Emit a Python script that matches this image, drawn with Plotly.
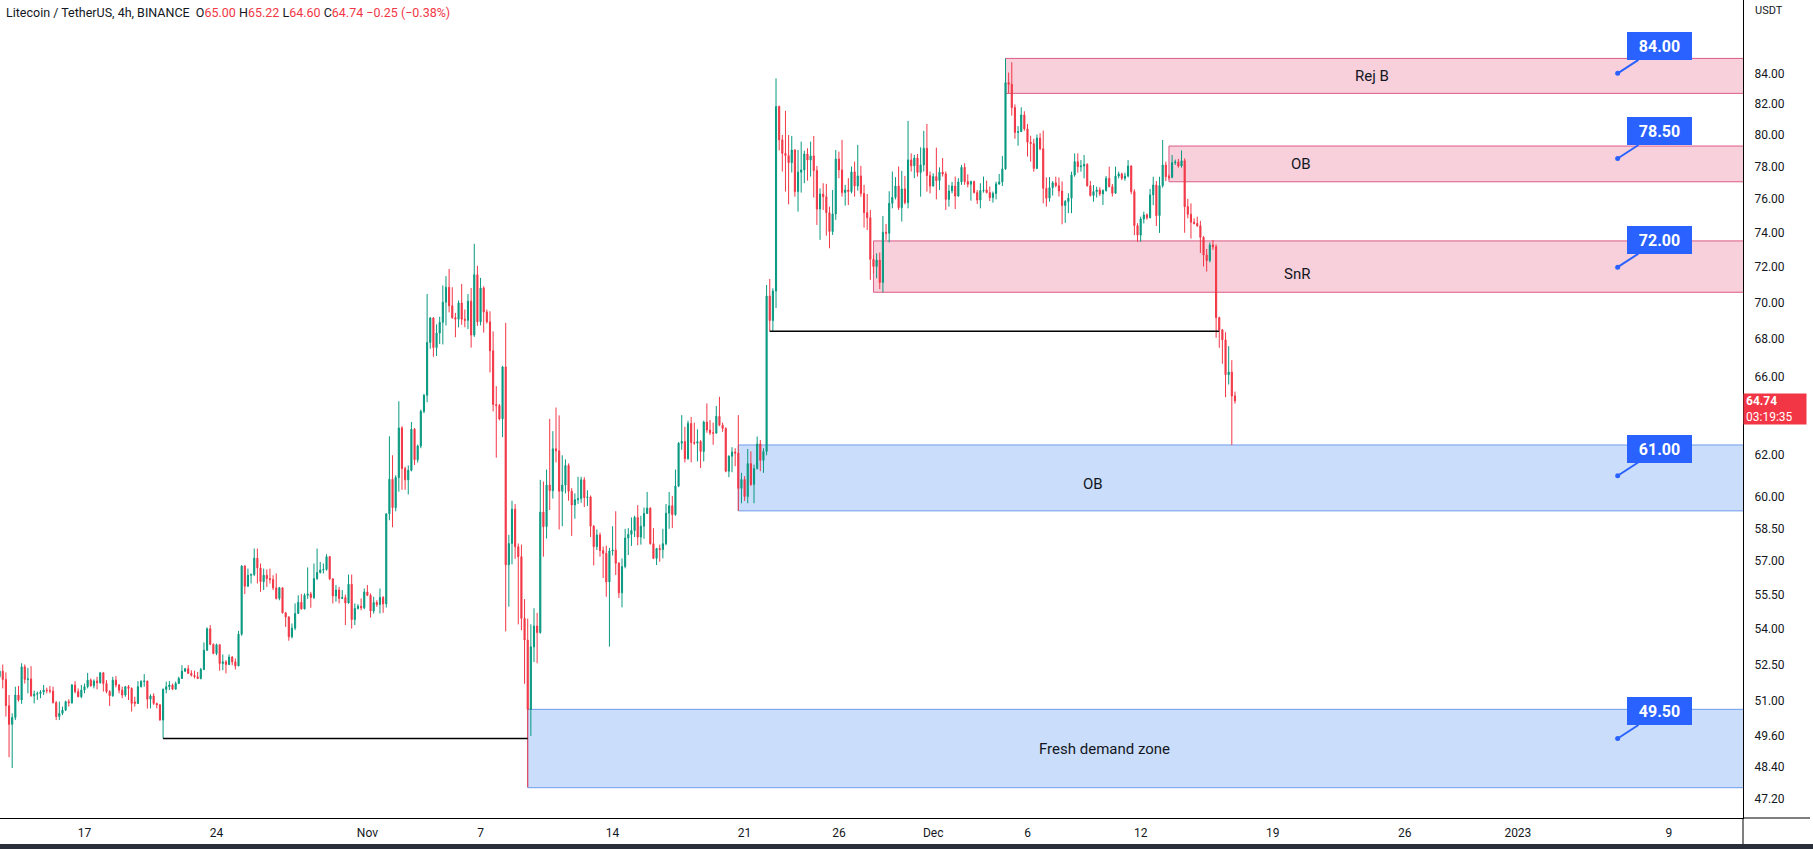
import numpy as np
import pandas as pd
import plotly.graph_objects as go

# ---------------- DATA ----------------
bar_start = "2022-10-12 12:00"
bar_freq = "4h"

open_ = [51.99,52.22,51.88,50.81,50.06,50.33,51.24,51.04,52.40,51.88,51.90,51.21,51.27,51.30,51.36,51.44,51.42,51.40,50.93,50.37,
50.50,50.63,50.97,50.93,51.65,51.38,51.17,51.44,51.58,51.85,51.62,51.81,51.74,52.15,51.71,51.38,51.21,51.85,51.65,51.44,
51.24,51.58,51.51,50.96,50.90,51.58,51.79,51.81,51.07,51.20,50.90,50.84,50.23,51.47,51.58,51.65,51.48,51.71,51.92,52.22,
52.32,52.13,52.05,51.99,51.92,52.29,53.10,54.01,53.35,52.96,53.33,52.54,52.61,52.50,52.81,52.61,52.44,53.78,56.77,55.87,
56.36,56.39,57.13,56.69,56.07,56.36,56.21,56.17,55.80,55.33,55.80,54.70,54.52,53.67,54.04,54.67,55.16,54.87,55.47,55.52,
55.37,56.21,56.48,56.59,56.62,57.20,56.20,55.44,55.70,55.33,55.37,55.13,55.96,54.41,54.89,54.99,54.92,55.61,55.47,54.78,
55.15,55.06,55.37,55.09,59.18,60.83,59.47,60.91,63.36,61.35,60.80,61.26,63.30,61.78,62.46,64.20,65.03,67.82,69.15,67.54,
68.33,68.91,70.02,70.86,69.82,69.17,69.08,69.98,69.08,69.02,70.08,68.22,71.57,68.94,70.82,69.48,68.94,67.37,64.55,64.50,
63.82,66.51,56.83,57.80,59.40,57.65,57.20,54.46,53.53,50.66,53.24,54.13,53.85,59.26,58.58,60.55,60.28,62.32,62.22,60.25,
60.55,61.50,60.25,59.60,59.85,59.90,60.80,59.95,59.98,58.60,57.66,58.19,57.48,57.35,56.06,57.46,57.50,56.90,55.58,56.75,
58.05,58.22,58.40,59.01,58.10,58.60,59.20,59.45,57.79,57.12,57.57,57.52,57.79,59.21,59.56,59.14,60.50,62.60,62.68,61.83,
63.59,62.63,62.60,62.68,62.19,63.66,63.26,63.12,63.10,63.95,63.50,63.34,61.22,61.95,62.16,62.11,60.39,60.82,60.00,61.59,
60.58,61.35,62.56,61.75,62.19,70.37,69.01,70.65,81.81,79.67,78.82,78.68,78.24,79.03,76.46,77.65,77.79,78.78,78.40,78.66,
77.75,75.41,76.31,76.15,75.19,74.07,75.11,78.47,77.79,76.40,76.56,76.46,77.67,76.80,77.42,76.35,75.19,74.89,72.45,72.04,
72.41,71.13,74.03,73.97,75.75,76.11,76.80,75.49,76.62,75.79,78.41,78.04,78.53,77.63,78.10,79.14,77.44,76.80,77.38,77.13,
77.65,77.54,75.99,76.50,76.80,76.19,77.05,77.95,77.07,76.91,77.07,76.40,75.95,76.52,76.56,76.40,76.09,76.35,76.93,77.05,
77.85,83.38,83.27,81.74,80.14,80.20,81.26,80.37,79.52,79.43,77.88,79.78,79.11,76.66,76.06,76.70,77.00,76.82,76.50,75.62,
75.86,76.06,77.48,78.30,77.99,78.03,78.13,76.82,76.22,76.46,76.56,76.32,76.52,77.27,76.76,76.36,77.41,77.54,77.27,77.41,
78.03,76.46,74.42,73.86,74.81,75.05,74.89,76.26,76.86,75.01,76.82,78.09,77.37,77.33,78.24,78.28,78.03,78.36,75.55,75.10,
74.62,74.55,74.41,73.73,72.70,72.38,73.28,73.18,69.17,68.50,67.96,66.10,66.24,65.00]

high = [52.36,52.50,52.17,51.24,50.50,51.58,51.61,52.55,52.50,52.36,52.43,51.42,51.38,51.44,51.65,51.54,51.61,51.58,51.00,50.97,
50.77,51.01,51.07,51.69,51.81,51.51,51.65,51.71,52.15,51.92,51.88,51.99,52.19,52.19,51.85,51.44,51.99,52.02,51.69,51.58,
51.61,51.65,51.55,51.17,51.81,51.85,52.10,51.83,51.27,51.31,50.93,50.88,51.51,51.79,51.81,51.71,51.79,51.99,52.47,52.36,
52.47,52.26,52.24,52.19,52.36,53.43,54.07,54.17,53.38,53.38,53.35,52.92,52.68,52.92,52.85,52.75,53.92,56.81,56.81,56.66,
56.44,57.57,57.57,56.89,56.66,56.62,56.66,56.36,56.44,55.84,55.81,54.74,54.55,54.24,55.11,55.47,55.52,55.55,56.71,55.62,
56.89,57.57,56.96,56.89,57.31,57.23,56.21,55.92,55.84,55.70,55.50,56.39,56.39,55.11,55.08,55.33,55.77,55.92,55.55,55.40,
55.25,55.77,55.43,59.20,62.94,62.00,61.02,64.72,63.45,61.44,61.50,63.66,63.36,62.53,64.29,65.10,70.48,69.20,69.20,68.80,
69.22,70.96,71.49,71.90,70.86,69.43,70.12,71.05,69.62,70.48,70.82,73.35,72.08,71.39,70.92,69.62,69.52,68.42,65.50,64.58,
66.57,68.88,58.20,59.80,59.64,57.80,57.75,55.30,54.45,54.20,54.90,54.70,60.80,60.72,61.30,63.82,63.20,64.40,64.00,62.00,
61.80,61.60,60.40,60.15,60.95,60.95,60.93,60.30,60.05,58.65,58.45,58.30,57.66,57.70,57.60,58.60,59.30,56.95,57.12,58.48,
58.51,59.01,59.09,59.59,59.09,59.48,60.22,59.48,58.51,57.60,57.75,58.48,59.64,60.22,60.03,61.30,62.65,64.01,63.42,63.73,
63.92,63.63,63.29,62.75,63.73,64.61,63.76,63.63,64.48,64.95,63.63,63.39,62.00,62.40,62.35,64.01,61.14,60.98,62.31,62.19,
61.54,62.93,62.76,62.35,70.99,71.33,70.80,83.66,81.87,79.98,81.53,79.98,79.92,79.08,79.03,79.56,78.99,79.14,79.56,79.92,
78.04,76.66,76.97,76.93,75.55,76.56,79.03,78.93,79.67,76.87,77.28,78.00,78.30,79.35,78.04,76.87,76.31,75.35,72.70,72.80,
72.84,74.99,74.52,76.48,77.69,77.34,78.00,77.73,77.42,80.88,78.82,78.72,78.78,79.20,80.24,80.68,77.69,77.58,79.18,77.95,
78.53,77.69,76.87,77.05,77.38,77.28,78.10,78.20,77.52,77.13,77.13,76.56,76.97,77.38,77.13,76.77,76.46,77.07,77.54,78.66,
85.00,84.05,84.74,81.95,80.55,81.76,81.50,80.69,79.93,79.74,80.01,80.09,80.26,77.33,77.35,77.10,77.37,77.33,77.08,75.95,
76.36,77.68,78.82,78.82,78.40,78.72,78.20,77.11,76.86,76.76,76.72,76.60,77.41,77.99,76.92,77.99,77.68,77.62,77.62,78.40,
78.07,76.60,74.56,74.95,75.25,75.15,76.62,77.37,77.10,77.37,79.66,78.30,77.50,78.72,78.43,78.47,79.00,78.51,76.02,75.75,
74.85,74.95,74.70,73.80,73.05,73.43,73.57,73.32,69.22,68.55,68.37,67.62,66.87,65.22]

low = [51.95,51.51,50.37,48.77,48.35,50.23,50.97,50.88,51.71,51.31,51.17,50.90,51.04,51.11,51.24,51.31,51.31,50.90,50.23,50.23,
50.43,50.59,50.77,50.88,51.31,51.15,51.11,51.31,51.51,51.58,51.51,51.47,51.71,51.38,51.31,50.80,51.17,51.55,51.31,51.11,
51.17,51.04,50.57,50.77,50.88,51.55,51.58,50.69,50.70,50.84,50.70,50.21,49.50,51.31,51.44,51.44,51.47,51.69,51.90,52.19,
52.10,52.00,51.92,51.90,51.88,52.26,53.07,53.31,52.93,52.89,52.24,52.26,52.13,52.47,52.47,52.29,52.43,53.71,55.52,55.84,
55.99,56.32,55.99,55.62,55.70,55.84,55.99,55.70,55.28,55.25,54.67,54.09,53.50,53.60,53.95,54.67,54.84,54.85,55.31,54.92,
55.30,56.14,56.44,56.44,56.56,56.14,55.11,55.18,55.11,55.30,54.17,55.11,54.02,54.17,54.84,54.81,54.86,55.43,54.50,54.67,
54.96,54.67,54.70,54.93,58.88,58.55,59.30,60.23,60.32,60.32,60.10,61.21,61.52,61.64,62.35,64.11,64.67,67.48,67.05,67.09,
67.73,67.71,68.74,69.46,69.10,68.10,68.64,68.78,68.64,68.54,67.54,68.12,68.72,68.74,68.35,68.84,66.22,64.20,61.88,63.75,
62.90,53.90,54.97,56.85,57.10,54.20,53.95,51.70,47.62,49.60,52.60,52.55,53.80,57.20,58.03,59.36,59.90,61.65,58.45,58.60,
60.15,59.80,58.15,58.95,59.65,59.70,59.50,59.55,58.10,56.80,57.50,57.20,56.24,55.40,53.25,57.25,56.37,55.35,54.94,56.67,
57.27,57.69,58.10,57.72,57.75,58.02,59.17,57.75,57.10,56.82,56.97,57.12,57.72,58.48,58.51,59.09,60.45,62.27,61.65,61.78,
61.65,62.52,61.70,61.38,61.70,63.12,63.01,62.52,63.09,63.45,63.17,61.17,60.93,61.17,61.46,59.32,59.68,59.79,59.68,60.50,
59.68,61.30,61.22,61.14,62.00,68.42,68.45,69.70,79.00,77.69,76.46,75.69,77.63,76.15,75.25,76.40,76.97,77.13,77.38,76.10,
74.46,73.58,75.35,73.83,73.09,73.87,74.76,77.28,76.15,75.61,75.65,76.35,76.15,76.52,76.15,74.30,74.16,71.28,71.66,71.37,
70.75,70.58,73.58,73.43,75.45,75.99,75.35,74.66,75.69,75.45,77.69,77.28,77.38,76.15,77.69,76.46,76.35,76.77,75.99,76.56,
77.38,75.35,75.55,76.35,75.41,76.15,76.87,76.87,76.72,75.91,76.35,75.71,75.45,76.40,76.35,75.89,75.79,75.99,76.87,76.80,
77.79,82.68,81.22,79.74,79.30,80.16,80.25,78.62,78.30,77.68,77.84,79.02,75.75,75.55,75.85,76.22,76.72,76.16,74.50,74.58,
75.16,75.16,77.37,77.62,77.68,77.27,76.76,76.16,75.85,76.10,76.20,75.65,76.46,76.72,76.16,76.32,77.27,77.16,77.12,77.33,
76.30,73.86,73.47,73.47,74.55,74.77,74.85,75.64,74.40,73.99,76.70,77.10,77.20,77.28,78.10,77.93,77.93,74.00,74.85,73.66,
74.49,74.35,72.81,72.04,71.75,72.28,73.00,68.07,67.53,66.68,64.93,65.59,62.51,64.60]

close = [52.22,51.88,50.81,50.06,50.33,51.24,51.04,52.40,51.88,51.90,51.21,51.27,51.30,51.36,51.44,51.42,51.40,50.93,50.37,50.50,
50.63,50.97,50.93,51.65,51.38,51.17,51.44,51.58,51.85,51.62,51.81,51.74,52.15,51.71,51.38,51.21,51.85,51.65,51.44,51.24,
51.58,51.51,50.90,50.90,51.58,51.79,51.81,51.07,51.20,50.90,50.84,50.23,51.47,51.58,51.65,51.48,51.71,51.92,52.22,52.32,
52.13,52.05,51.99,51.92,52.29,53.10,54.01,53.35,52.96,53.33,52.54,52.61,52.50,52.81,52.61,52.44,53.78,56.77,55.87,56.36,
56.39,57.13,56.69,56.07,56.36,56.21,56.17,55.80,55.33,55.80,54.70,54.52,53.67,54.04,54.67,55.16,54.87,55.47,55.52,55.37,
56.21,56.48,56.59,56.62,57.20,56.20,55.44,55.70,55.33,55.37,55.13,55.96,54.41,54.89,54.99,54.92,55.61,55.47,54.78,55.15,
55.06,55.37,55.09,59.18,60.83,59.47,60.91,63.36,61.35,60.80,61.26,63.30,61.78,62.46,64.20,65.03,67.82,69.15,67.54,68.33,
68.91,70.02,70.86,69.82,69.17,69.08,69.98,69.08,69.02,70.08,68.22,71.57,68.94,70.82,69.48,68.94,67.37,64.55,64.50,63.82,
66.51,56.83,57.80,59.40,57.65,57.20,54.46,53.53,50.66,53.24,54.13,53.85,59.26,58.58,60.55,60.28,62.32,62.22,60.25,60.55,
61.50,60.25,59.60,59.85,59.90,60.80,59.95,59.98,58.60,57.66,58.19,57.48,57.35,56.06,57.46,57.50,56.90,55.58,56.75,58.05,
58.22,58.40,59.01,58.10,58.60,59.20,59.45,57.79,57.12,57.57,57.52,57.79,59.21,59.56,59.14,60.50,62.60,62.68,61.83,63.59,
62.63,62.60,62.68,62.19,63.66,63.26,63.12,63.10,63.95,63.50,63.34,61.22,61.95,62.16,62.11,60.39,60.82,60.00,61.59,60.58,
61.35,62.56,61.75,62.19,70.37,69.01,70.65,81.81,79.67,78.82,78.68,78.24,79.03,76.46,77.65,77.79,78.78,78.40,78.66,77.75,
75.41,76.31,76.15,75.19,74.07,75.11,78.47,77.79,76.40,76.56,76.46,77.67,76.80,77.42,76.35,75.19,74.89,72.45,72.04,72.41,
71.13,74.03,73.97,75.75,76.11,76.80,75.49,76.62,75.79,78.41,78.04,78.53,77.63,78.10,79.14,77.44,76.80,77.38,77.13,77.65,
77.54,75.99,76.50,76.80,76.19,77.05,77.95,77.07,76.91,77.07,76.40,75.95,76.52,76.56,76.40,76.09,76.35,76.93,77.05,77.85,
83.38,83.27,81.74,80.14,80.20,81.26,80.37,79.52,79.43,77.88,79.78,79.11,76.66,76.06,76.70,77.00,76.82,76.50,75.62,75.86,
76.06,77.48,78.30,77.99,78.03,78.13,76.82,76.22,76.46,76.56,76.32,76.52,77.27,76.76,76.36,77.41,77.54,77.27,77.41,78.03,
76.46,74.42,73.86,74.81,75.05,74.89,76.26,76.86,75.01,76.82,78.09,77.37,77.33,78.24,78.28,78.03,78.36,75.55,75.10,74.62,
74.55,74.41,73.73,72.70,72.38,73.28,73.18,69.17,68.50,67.96,66.10,66.24,64.99,64.74]

# zones drawn on the chart
zone_names = ["Rej B", "OB", "SnR", "OB", "Fresh demand zone"]
zone_kind = ["supply", "supply", "supply", "demand", "demand"]
zone_start = ["2022-12-04 20:00", "2022-12-13 12:00", "2022-11-27 20:00", "2022-11-20 16:00", "2022-11-09 12:00"]
zone_top = [85.00, 79.28, 73.52, 62.51, 50.66]
zone_bottom = [82.67, 77.06, 70.58, 59.32, 47.60]

# swing-low lines
swing_start = ["2022-10-21 04:00", "2022-11-22 08:00"]
swing_end = ["2022-11-09 12:00", "2022-12-16 04:00"]
swing_price = [49.50, 68.42]

# price callouts
callout_prices = [84.00, 78.50, 72.00, 61.00, 49.50]
callout_date = "2023-01-06 07:00"

countdown = "03:19:35"

y_tick_vals = [47.2, 48.4, 49.6, 51, 52.5, 54, 55.5, 57, 58.5, 60, 62, 66, 68, 70, 72, 74, 76, 78, 80, 82, 84]
y_tick_text = ["47.20", "48.40", "49.60", "51.00", "52.50", "54.00", "55.50", "57.00", "58.50", "60.00",
               "62.00", "66.00", "68.00", "70.00", "72.00", "74.00", "76.00", "78.00", "80.00", "82.00", "84.00"]
x_tick_vals = ["2022-10-17", "2022-10-24", "2022-11-01", "2022-11-07", "2022-11-14", "2022-11-21", "2022-11-26",
               "2022-12-01", "2022-12-06", "2022-12-12", "2022-12-19", "2022-12-26", "2023-01-01", "2023-01-09"]
x_tick_text = ["17", "24", "Nov", "7", "14", "21", "26", "Dec", "6", "12", "19", "26", "2023", "9"]

# ---------------- FIGURE ----------------
FONT = "Roboto, 'Liberation Sans', sans-serif"
TXT = "#131722"
UP = "#089981"
DOWN = "#F23645"
BLUE = "#2962FF"

times = pd.date_range(bar_start, periods=len(close), freq=bar_freq)

W, H = 1813, 849
ML, MR, MT, MB = 0, 70, 0, 31
PW = W - ML - MR
PH = H - MT - MB

fig = go.Figure()

fig.add_trace(go.Candlestick(
    x=times, open=open_, high=high, low=low, close=close,
    increasing=dict(line=dict(color=UP, width=1), fillcolor=UP),
    decreasing=dict(line=dict(color=DOWN, width=1), fillcolor=DOWN),
    whiskerwidth=0, hoverinfo="skip", showlegend=False,
))

for s, e, p in zip(swing_start, swing_end, swing_price):
    fig.add_trace(go.Scatter(x=[s, e], y=[p, p], mode="lines",
                             line=dict(color="#000000", width=1.5),
                             hoverinfo="skip", showlegend=False))

fig.add_trace(go.Scatter(x=[callout_date] * len(callout_prices), y=callout_prices, mode="markers",
                         marker=dict(color=BLUE, size=5), hoverinfo="skip", showlegend=False))

shapes = []
annotations = []
far_right = "2023-03-01"
zone_label_x = ["2022-12-24 06:30", "2022-12-20 12:15", "2022-12-20 07:00", "2022-12-09 11:20", "2022-12-10 02:30"]
zone_label_shift = [0, 0, -7, -6, 0]
for name, kind, s, top, bot, lx, ys in zip(zone_names, zone_kind, zone_start, zone_top, zone_bottom,
                                           zone_label_x, zone_label_shift):
    if kind == "supply":
        fill, edge = "#F8D0DC", "#DC5A86"
    else:
        fill, edge = "#CADDFB", "#6E9CEB"
    shapes.append(dict(type="rect", xref="x", yref="y", x0=s, x1=far_right, y0=bot, y1=top,
                       fillcolor=fill, line=dict(color=edge, width=1), layer="below"))
    annotations.append(dict(x=lx, y=(np.log10(top) + np.log10(bot)) / 2, xref="x", yref="y", yshift=ys,
                            text=name, showarrow=False, font=dict(family=FONT, size=15, color=TXT)))

for p in callout_prices:
    annotations.append(dict(x=callout_date, y=np.log10(p), xref="x", yref="y",
                            text="<b>%.2f</b>" % p, showarrow=True, arrowhead=0, arrowwidth=2,
                            arrowcolor=BLUE, ax=41.5, ay=-27, standoff=0,
                            bgcolor=BLUE, bordercolor=BLUE, borderwidth=1, borderpad=3,
                            width=57, height=20, font=dict(family=FONT, size=16, color="white")))

# last price label
last = close[-1]
annotations.append(dict(x=1.0, xref="paper", y=np.log10(last), yref="y", xanchor="left", yanchor="top",
                        yshift=8, text="<b>%.2f</b><br>%s" % (last, countdown), align="left", showarrow=False,
                        bgcolor=DOWN, borderpad=2, width=58, height=26,
                        font=dict(family=FONT, size=12, color="white")))

annotations.append(dict(x=(1753 - ML) / PW, xref="paper", y=1 - 10 / PH, yref="paper", xanchor="left",
                        yanchor="middle", text="USDT", showarrow=False,
                        font=dict(family=FONT, size=11, color=TXT)))

chg = close[-1] - close[-2]
pct = chg / close[-2] * 100
def fmt(v):
    return ("%.2f" % v).replace("-", "\u2212")
red = lambda t: "<span style='color:%s'>%s</span>" % (DOWN, t)
header = ("Litecoin / TetherUS, 4h, BINANCE  O" + red(fmt(open_[-1])) + " H" + red(fmt(high[-1])) +
          " L" + red(fmt(low[-1])) + " C" + red(fmt(close[-1])) + " " + red(fmt(chg) + " (" + fmt(pct) + "%)"))
annotations.append(dict(x=0, xref="paper", y=1, yref="paper", xanchor="left", yanchor="top", xshift=4, yshift=-3,
                        text=header, showarrow=False, font=dict(family=FONT, size=12.5, color=TXT)))

# frame pieces outside the plot
xr = 1 + (1810 - PW) / PW
shapes.append(dict(type="line", xref="paper", yref="paper", x0=1, x1=xr, y0=0, y1=0,
                   line=dict(color="#000000", width=1)))
shapes.append(dict(type="line", xref="paper", yref="paper", x0=1, x1=1, y0=0, y1=-(845 - 818) / PH,
                   line=dict(color="#000000", width=1)))
shapes.append(dict(type="rect", xref="paper", yref="paper", x0=-0.01, x1=W / PW + 0.01,
                   y0=-(844 - 818) / PH, y1=-(H - 818 + 2) / PH, fillcolor="#2A2E39", line=dict(width=0)))

y_lo = 10 ** (np.log10(84) - (818 - 73.3) / 1257.8 / np.log(10))
y_hi = 10 ** (np.log10(84) + 73.3 / 1257.8 / np.log(10))

fig.update_layout(
    width=W, height=H, margin=dict(l=ML, r=MR, t=MT, b=MB),
    paper_bgcolor="white", plot_bgcolor="white",
    shapes=shapes, annotations=annotations, showlegend=False, boxgap=0.5,
    font=dict(family=FONT, color=TXT, size=12),
    xaxis=dict(type="date", range=["2022-10-12 12:29", "2023-01-12 22:29"], rangeslider=dict(visible=False),
               showgrid=False, zeroline=False, showline=True, linecolor="#000000", linewidth=1,
               tickvals=x_tick_vals, ticktext=x_tick_text, ticks="", ticklabelstandoff=4,
               tickfont=dict(family=FONT, size=12, color=TXT)),
    yaxis=dict(type="log", side="right", range=[np.log10(y_lo), np.log10(y_hi)],
               showgrid=False, zeroline=False, showline=True, linecolor="#000000", linewidth=1,
               tickvals=y_tick_vals, ticktext=y_tick_text, ticks="", ticklabelstandoff=8,
               tickfont=dict(family=FONT, size=12, color=TXT)),
    hovermode=False,
)

fig.write_html("out.html", config={"displayModeBar": False},
               post_script="document.body.style.margin='0';document.body.style.overflow='hidden';")
